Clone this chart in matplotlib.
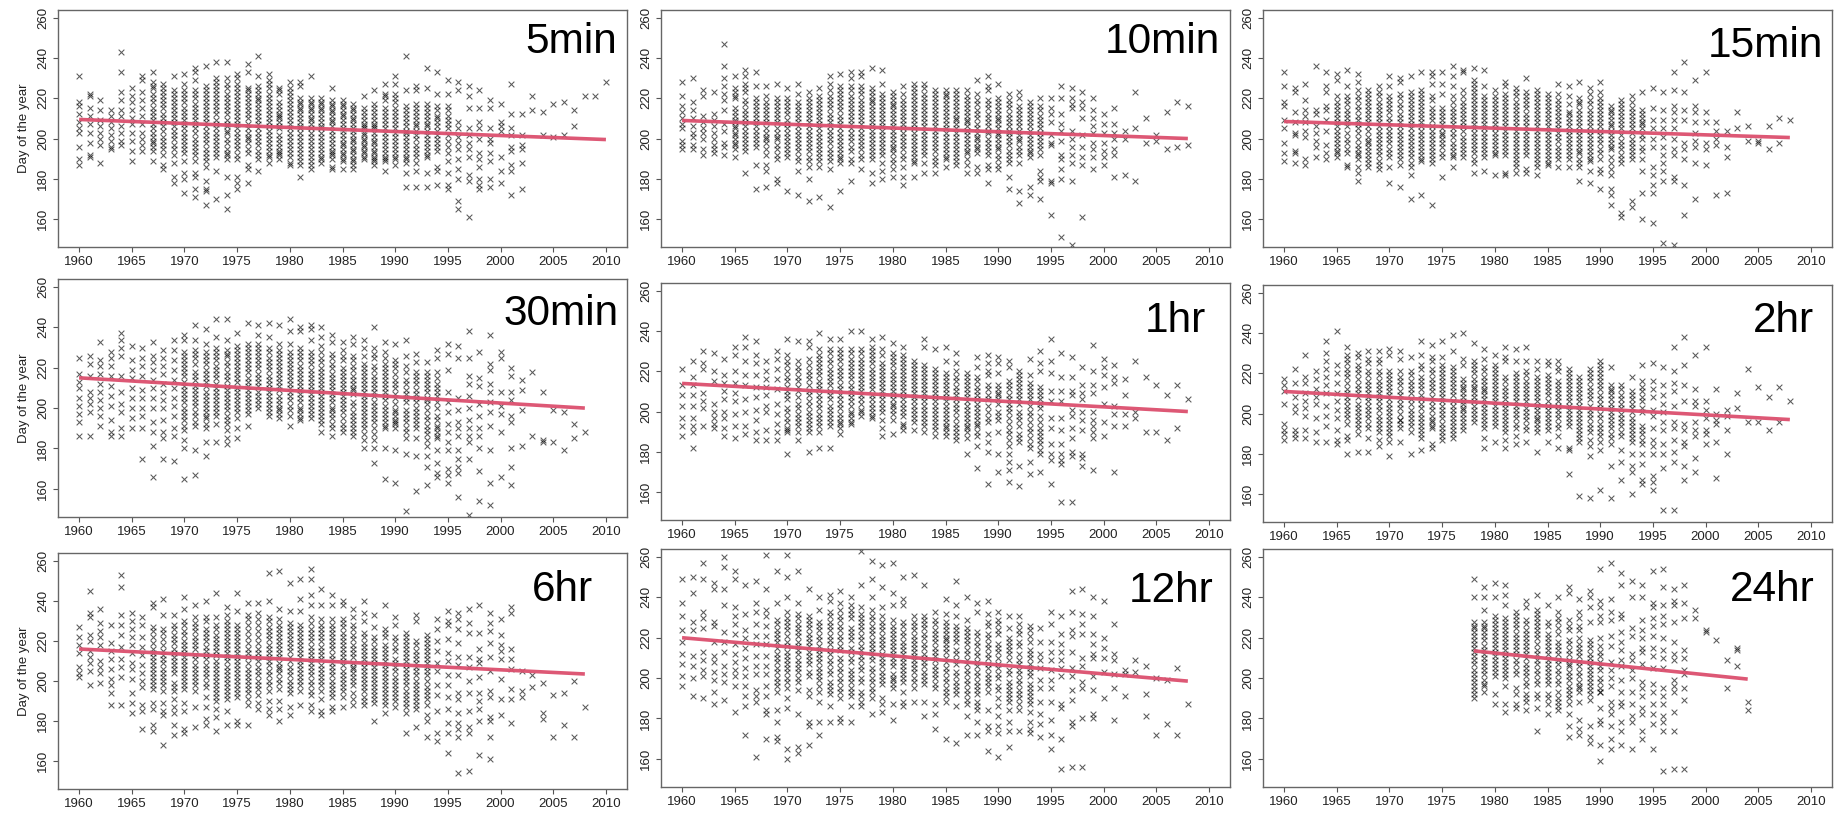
import matplotlib
matplotlib.use("Agg")
import matplotlib.pyplot as plt

plt.rcParams['font.family'] = ['Liberation Sans', 'DejaVu Sans']

# day of the year, year by year, one table per duration
y_5min = {
    1960: [231,218,216,212,208,205,203,196,190,187],
    1961: [222,221,215,211,207,203,198,192,191],
    1962: [219,214,209,206,203,200,197,188],
    1963: [214,211,208,205,202,199,196,195],
    1964: [243,233,223,219,214,211,206,203,199,197],
    1965: [225,221,218,214,210,207,203,199,194,189],
    1966: [231,229,223,219,215,211,207,203,200,197,194],
    1967: [233,228,225,222,218,213,209,205,201,198,194,189],
    1968: [227,223,219,215,212,208,204,201,197,192,187,185],
    1969: [231,224,220,216,212,208,204,200,195,192,188,181,178],
    1970: [232,227,222,218,213,209,205,201,197,193,189,183,180,173],
    1971: [235,233,229,224,220,215,211,207,203,198,194,189,183,181,175,171],
    1972: [236,226,222,218,214,210,206,202,198,193,189,186,179,175,174,167],
    1973: [238,230,226,222,218,214,209,205,201,197,193,191,184,170],
    1974: [238,230,227,222,218,214,209,206,203,198,193,190,181,172,165],
    1975: [232,230,225,221,217,213,209,205,201,197,192,190,181,178,175],
    1976: [237,233,225,222,218,214,210,205,201,198,193,187,185,178],
    1977: [241,231,226,222,219,215,211,207,203,199,194,190,184],
    1978: [232,229,225,222,218,214,210,206,202,198,194,191,188],
    1979: [225,224,218,214,211,208,205,200,196,193,190],
    1980: [228,225,221,217,213,209,205,201,197,193,188,187],
    1981: [228,226,220,217,214,210,206,203,199,195,191,187,181],
    1982: [231,220,217,214,210,207,203,199,195,191,187,185],
    1983: [220,217,214,210,206,203,199,195,191,188],
    1984: [225,219,216,213,209,206,202,198,194,192,186,185],
    1985: [219,216,212,209,205,202,198,195,192,189,185],
    1986: [217,214,210,207,204,200,197,194,190,187,185],
    1987: [221,215,211,207,205,202,199,196,193,190],
    1988: [224,217,213,209,206,203,199,196,193,190,187],
    1989: [227,222,221,215,211,207,203,199,195,191,189,184],
    1990: [231,227,222,218,213,209,205,201,197,193,190,187],
    1991: [241,224,216,212,208,204,201,197,193,188,183,176],
    1992: [226,224,217,213,209,206,202,197,193,188,184,176],
    1993: [235,225,217,213,209,206,202,198,194,191,183,176],
    1994: [233,222,216,211,208,204,200,196,186,184,177],
    1995: [229,222,216,211,207,202,196,189,183,177,175],
    1996: [228,224,208,205,201,198,195,190,185,180,169,165],
    1997: [226,221,215,205,202,198,195,191,182,179,161],
    1998: [224,215,208,205,200,193,190,186,180,177,175],
    1999: [219,215,205,200,198,193,189,180,176],
    2000: [217,208,206,204,191,184,178],
    2001: [227,212,205,202,196,194,187,184,172],
    2002: [212,202,197,195,188,175],
    2003: [221,214],
    2004: [213,202],
    2005: [217,201],
    2006: [218,202],
    2007: [214,206],
    2008: [221],
    2009: [221],
    2010: [228],
}

y_10min = {
    1960: [228,221,216,213,210,207,205,199,197,195],
    1961: [230,218,214,210,206,203,201,197,195],
    1962: [224,221,211,208,205,203,200,195,192],
    1963: [223,212,209,206,203,200,197,195,193],
    1964: [247,236,230,226,222,219,214,207,204,198,196,192],
    1965: [231,225,223,220,215,211,208,205,202,198,195,191],
    1966: [234,231,227,223,217,212,208,204,200,196,194,183],
    1967: [233,226,220,216,212,208,204,200,196,187,175],
    1968: [226,221,216,212,208,203,200,195,187,184,176],
    1969: [227,220,216,212,208,203,200,195,190,180,178],
    1970: [225,220,216,212,207,203,199,195,191,174],
    1971: [227,222,216,212,208,204,200,196,191,184,172],
    1972: [223,218,214,210,206,202,198,194,189,186,180,169],
    1973: [225,221,217,213,209,205,201,197,193,189,186,171],
    1974: [231,227,224,219,215,210,206,202,198,193,189,185,166],
    1975: [232,226,222,218,214,209,205,201,197,193,190,188,174],
    1976: [233,230,224,219,215,211,207,203,199,194,188,179],
    1977: [233,231,226,222,217,213,209,205,201,197,192,185],
    1978: [235,225,221,218,214,210,206,202,198,194,190,183,178],
    1979: [234,227,222,218,214,210,206,202,198,194,188,184,180],
    1980: [223,219,216,212,208,204,200,196,193,188,185,181],
    1981: [226,222,217,213,209,205,201,197,192,186,181,177],
    1982: [227,223,219,215,211,207,203,199,195,191,188,181],
    1983: [227,222,218,214,210,206,202,198,194,188,183],
    1984: [224,220,216,212,208,204,200,196,191,187,183],
    1985: [224,221,217,213,209,205,201,197,193,190,186],
    1986: [224,220,216,212,209,205,201,197,193,189,187],
    1987: [224,219,215,211,208,204,200,196,193,187,183],
    1988: [229,222,217,212,207,203,200,196,193,186,183],
    1989: [231,226,224,219,215,210,206,203,198,194,187,185,178],
    1990: [227,220,216,212,209,205,202,198,195,190,187,185],
    1991: [222,219,215,210,206,203,199,192,188,181,175],
    1992: [223,220,214,210,206,202,199,196,192,188,174,168],
    1993: [218,214,210,206,202,198,194,191,176,172],
    1994: [220,214,211,207,203,199,195,192,184,181,179,170],
    1995: [220,215,212,208,202,198,197,179,178,162],
    1996: [226,220,212,207,204,199,192,190,185,180,151],
    1997: [225,220,217,215,204,200,196,192,188,179,147],
    1998: [223,218,215,210,202,196,191,187,161],
    1999: [220,214,210,206,203,198,195,191,185],
    2000: [212,207,203,198,194,191,187],
    2001: [215,207,203,200,195,192,181],
    2002: [204,200,182],
    2003: [223,205,179],
    2004: [210,198],
    2005: [202,199],
    2006: [213,195],
    2007: [218,196],
    2008: [216,197],
}

y_15min = {
    1960: [233,226,218,216,209,205,198,193,189],
    1961: [225,223,213,208,203,202,194,193,188],
    1962: [227,219,214,211,208,204,201,190,187],
    1963: [236,214,212,206,203,199,196,191],
    1964: [233,226,223,216,214,209,204,197,193,190],
    1965: [232,229,221,218,214,210,206,202,198,194,191],
    1966: [234,226,221,217,212,208,203,198,193,187,186],
    1967: [232,228,224,219,214,211,207,203,197,193,190,186,183,179],
    1968: [224,220,216,212,208,204,199,196,192,188,186],
    1969: [226,221,216,212,208,204,200,196,192,189,185],
    1970: [231,226,221,217,213,208,204,200,195,191,186,178],
    1971: [230,228,222,217,212,208,204,200,196,192,187,176],
    1972: [231,223,219,215,211,207,203,199,195,191,186,182,170],
    1973: [233,224,220,216,212,208,204,200,196,192,189,172],
    1974: [233,231,227,221,215,211,206,202,198,194,190,188,167],
    1975: [233,227,222,215,211,207,203,200,196,191,181],
    1976: [236,231,226,221,215,211,207,203,198,194,191,186],
    1977: [234,233,224,218,214,210,206,201,197,193,191],
    1978: [235,229,225,221,217,213,209,205,201,197,193,188,183],
    1979: [234,226,221,217,213,209,205,201,197,193,184],
    1980: [224,219,215,211,207,203,199,195,192,182],
    1981: [228,226,220,216,212,208,204,200,196,192,183,182],
    1982: [225,221,218,214,210,206,202,198,194,190,186,183],
    1983: [230,223,219,215,210,206,202,198,194,185,183],
    1984: [224,222,218,214,210,206,202,198,194,190,186,182],
    1985: [222,218,214,210,206,202,198,194,190,187],
    1986: [227,222,217,213,209,205,201,196,192,186],
    1987: [226,221,213,210,206,202,196,192,186],
    1988: [228,220,217,212,208,204,200,196,193,190,186,179],
    1989: [225,222,217,212,208,204,200,196,192,189,184,178],
    1990: [228,223,220,216,212,208,204,200,195,190,185,183,175],
    1991: [216,213,209,206,202,198,195,188,185,182,175,172,167],
    1992: [219,215,211,207,202,197,192,188,163,161],
    1993: [221,218,213,209,205,200,196,192,190,169,166],
    1994: [223,214,210,207,202,196,190,184,173,160],
    1995: [225,215,209,205,200,196,186,182,177,173,158],
    1996: [223,214,209,205,201,196,192,188,184,179,148],
    1997: [233,224,216,213,209,205,200,195,192,181,179,147],
    1998: [238,223,214,209,198,195,190,177,162],
    1999: [229,216,213,208,203,199,196,188,170],
    2000: [233,213,208,198,195,187],
    2001: [208,204,200,197,172],
    2002: [204,196,191,173],
    2003: [213,205],
    2004: [206,199],
    2005: [199,198],
    2006: [206,195],
    2007: [210,198],
    2008: [209],
}

y_30min = {
    1960: [225,217,213,210,205,201,197,193,186],
    1961: [226,222,216,208,205,202,198,186],
    1962: [233,224,221,217,212,208,204,200,196,191],
    1963: [228,225,221,216,211,206,201,194,188,186],
    1964: [237,234,230,226,216,208,202,198,190,186],
    1965: [231,224,219,215,210,205,200,195,190],
    1966: [230,225,221,216,209,205,200,196,190,175],
    1967: [233,226,223,219,214,210,205,200,193,188,181,166],
    1968: [229,225,221,217,212,208,204,200,194,188,185,175],
    1969: [234,229,224,219,214,210,205,201,196,190,186,174],
    1970: [236,234,228,224,220,216,211,207,203,198,194,189,184,180,165],
    1971: [241,234,229,225,218,214,209,205,201,196,191,179,167],
    1972: [239,232,228,224,219,215,211,206,202,198,195,190,183,176],
    1973: [244,235,230,226,221,217,212,208,204,200,196,192,183],
    1974: [244,234,229,226,221,216,211,207,203,199,194,189,185,182],
    1975: [237,231,227,223,219,215,210,206,202,198,190,185],
    1976: [242,232,228,224,220,215,211,207,203,199,191],
    1977: [241,236,232,226,222,217,213,208,204,200],
    1978: [242,235,230,225,221,216,212,208,204,200,196],
    1979: [241,232,227,223,219,215,211,206,202,199,195],
    1980: [244,238,232,226,222,218,214,210,206,201,196,191],
    1981: [240,238,230,226,221,217,213,209,205,200,197,194],
    1982: [241,239,234,228,224,219,215,211,207,203,199,195],
    1983: [240,235,231,225,220,216,212,208,204,200,196,192,188],
    1984: [236,233,227,222,217,213,209,205,200,197,192,186],
    1985: [233,229,226,220,216,212,208,204,200,195,192,188],
    1986: [235,232,226,221,216,212,209,203,198,194,190,186],
    1987: [234,230,226,220,216,212,208,204,200,196,192,187,184,180],
    1988: [240,230,227,221,216,212,208,203,199,195,187,184,180,173],
    1989: [233,228,222,218,214,210,206,201,197,193,190,180,165],
    1990: [232,224,220,214,210,205,199,196,193,190,179,163],
    1991: [234,226,221,214,209,205,199,195,190,185,177,149],
    1992: [227,223,218,214,209,205,200,196,192,185,176,159],
    1993: [223,218,214,210,205,202,196,191,187,181,176,171,162],
    1994: [229,225,218,212,208,203,196,191,188,185,179,173,168,166],
    1995: [232,227,219,208,203,198,192,188,183,179,170,167,163],
    1996: [231,225,205,199,193,190,186,179,175,171,168,156],
    1997: [238,225,216,212,206,200,194,190,186,183,175,147],
    1998: [228,215,211,202,196,190,186,180,169,154],
    1999: [236,222,219,212,208,203,198,191,179,163,152],
    2000: [228,225,208,201,197,188,166],
    2001: [220,216,208,204,196,193,180,171,162],
    2002: [214,209,199,181],
    2003: [218,186],
    2004: [208,184,183],
    2005: [199,183],
    2006: [198,179],
    2007: [192,185],
    2008: [188],
}

y_1hr = {
    1960: [221,213,208,203,197,193,188],
    1961: [225,217,213,208,203,197,193,190,182],
    1962: [230,224,221,209,205,202,193],
    1963: [229,220,215,204,200,197,194,192],
    1964: [226,218,214,210,206,200,197,192,188],
    1965: [232,228,220,214,209,205,199,193,187],
    1966: [237,232,225,218,213,206,200,193,189],
    1967: [235,228,224,218,212,207,201,196,190,186],
    1968: [225,220,216,212,208,203,200,191,186],
    1969: [230,226,221,216,211,204,199,194,190,186],
    1970: [236,228,223,217,212,208,202,197,192,190,179],
    1971: [235,225,220,215,210,204,199,195,190,186],
    1972: [235,232,226,220,216,210,205,200,196,190,180],
    1973: [239,231,226,222,218,213,208,204,199,195,190,182],
    1974: [236,231,226,221,217,213,208,203,199,195,182],
    1975: [236,231,227,222,218,213,208,204,199,195,192,189],
    1976: [240,231,226,222,218,213,209,205,200,197,194],
    1977: [240,231,226,222,218,214,210,206,201,198],
    1978: [236,232,226,221,217,213,208,204,200,197],
    1979: [237,231,224,220,216,212,208,204,196,192,188],
    1980: [234,229,225,220,216,212,208,204,201,196,189],
    1981: [232,228,224,220,216,212,208,204,200,194,191],
    1982: [225,221,217,213,209,205,201,197,191],
    1983: [236,232,223,219,215,211,207,203,199,195,190],
    1984: [231,221,217,213,209,205,199,195,191,188],
    1985: [232,225,219,215,211,207,203,199,195,192,188],
    1986: [229,224,217,212,208,204,200,194,190,186],
    1987: [219,215,211,207,203,199,195,192,187,179],
    1988: [227,222,217,212,208,204,200,196,193,188,183,172],
    1989: [228,224,218,213,208,203,197,189,185,180,164],
    1990: [227,224,219,211,208,204,198,190,179,170],
    1991: [225,222,215,211,206,202,194,189,183,179,175,171,165],
    1992: [220,216,212,208,204,200,196,189,185,173,163],
    1993: [226,218,212,208,203,198,192,187,182,175,169],
    1994: [230,224,220,212,208,204,198,192,188,184,179,170],
    1995: [236,225,219,210,205,197,192,184,179,176,164],
    1996: [229,217,210,205,197,191,184,179,176,174,155],
    1997: [227,217,210,208,201,198,192,187,180,178,155],
    1998: [222,213,209,206,200,196,191,179,177,173],
    1999: [233,220,213,209,200,196,193,190,187,171],
    2000: [226,222,218,212,204,195,188],
    2001: [223,217,214,203,199,193,170],
    2002: [216,208,199,193],
    2003: [225,200,197],
    2004: [217,190],
    2005: [213,190],
    2006: [208,186],
    2007: [213,192],
    2008: [206],
}

y_2hr = {
    1960: [217,214,211,205,195,192,190,187],
    1961: [222,215,208,204,201,192,190,188],
    1962: [229,218,215,210,206,203,199,192,188],
    1963: [221,217,212,208,205,198,191,186],
    1964: [236,230,226,222,218,214,210,204,199,194,186],
    1965: [241,224,220,215,210,206,202,198,192,187,185],
    1966: [233,229,225,222,218,212,208,204,198,189,187,180],
    1967: [230,224,220,214,210,205,201,195,190,181],
    1968: [231,227,221,216,212,208,204,200,195,188,181],
    1969: [231,227,221,216,212,208,204,199,195,191,187,184],
    1970: [232,229,221,217,213,209,205,201,197,193,189,186,179],
    1971: [231,227,221,216,211,207,203,197,195,186],
    1972: [228,221,216,212,207,202,196,191,180],
    1973: [236,229,224,218,214,209,205,200,196,192,188,182],
    1974: [234,228,222,217,213,208,204,199,196,193,185,183],
    1975: [236,228,224,220,216,212,208,204,200,195,191,187],
    1976: [239,231,223,219,215,211,206,202,198,194,190,188],
    1977: [240,227,224,217,213,210,206,203,200,196,192],
    1978: [235,226,222,217,213,210,206,202,198],
    1979: [232,227,223,218,214,211,207,203,199,195,188,183],
    1980: [229,224,220,216,212,208,204,200,196,186],
    1981: [233,228,226,218,213,209,205,201,197,191,187,183],
    1982: [232,226,220,216,212,208,204,200,195,189,185],
    1983: [233,226,221,216,212,208,203,199,194,186],
    1984: [226,222,218,214,210,206,202,198,195,191,181],
    1985: [226,224,219,215,211,206,202,198,192,186],
    1986: [226,223,216,212,208,204,200,195,189,183],
    1987: [222,218,214,210,206,202,198,194,183,182,170],
    1988: [218,214,210,206,202,198,194,190,186,159],
    1989: [222,218,213,209,204,200,195,191,187,184,179,158],
    1990: [226,222,218,214,209,205,200,195,191,186,182,162],
    1991: [223,214,211,207,203,199,195,190,185,174,158],
    1992: [214,209,205,200,196,191,182,176,167],
    1993: [218,211,207,203,198,194,190,186,180,174,171,160],
    1994: [224,216,213,208,203,194,190,185,180,175,167,165],
    1995: [225,216,212,208,202,199,193,187,184,180,169,166,162],
    1996: [223,214,209,205,201,196,192,185,180,173,152],
    1997: [233,221,215,211,204,196,193,187,181,176,152],
    1998: [238,224,214,206,195,192,186,184,174,167],
    1999: [229,212,206,204,196,192,189,178,171],
    2000: [233,206,202,198,192,190,185],
    2001: [212,200,197,195,186,168],
    2002: [202,199,192,180],
    2003: [210,203],
    2004: [222,196],
    2005: [213,196],
    2006: [208,192],
    2007: [213,196],
    2008: [206],
}

y_6hr = {
    1960: [227,222,218,214,207,204,202],
    1961: [245,234,232,223,220,215,212,209,205,198],
    1962: [236,229,225,222,218,210,207,204,199],
    1963: [228,219,215,211,206,201,198,194,188],
    1964: [253,247,233,228,223,217,211,207,202,188],
    1965: [234,230,226,222,218,214,209,206,201,194,189,184],
    1966: [232,228,222,217,213,208,204,200,197,188,185,176],
    1967: [239,237,227,222,216,212,208,204,200,196,189,186,178,175],
    1968: [241,233,226,221,215,211,206,202,198,189,185,183,168],
    1969: [233,228,223,219,214,210,206,199,195,191,187,184,178,173],
    1970: [242,236,230,225,220,216,212,208,204,200,196,189,185,176,174],
    1971: [238,232,227,222,218,213,208,204,200,195,187,177],
    1972: [240,232,226,222,217,213,208,204,199,192,187,181,178],
    1973: [244,232,228,223,219,215,210,206,202,198,194,190,186,182,175],
    1974: [237,233,228,224,220,216,212,207,203,199,195,191,185,178],
    1975: [244,235,228,224,220,216,212,208,204,200,196,192,180,178],
    1976: [239,233,228,222,216,212,206,202,198,194,188,178],
    1977: [239,234,228,222,216,212,207,203,198,193,189,186],
    1978: [254,240,232,227,223,218,214,210,205,200,195,190,186,183],
    1979: [255,236,231,226,222,218,214,209,206,201,196,190,186,180],
    1980: [249,235,229,225,221,217,212,207,203,198,194,187,183],
    1981: [251,241,235,228,224,220,216,212,208,204,200,195,188],
    1982: [256,251,243,238,232,226,222,217,213,209,205,200,193,188,185],
    1983: [246,238,231,226,222,217,213,208,204,200,195,191,185,183],
    1984: [243,238,231,226,222,218,213,209,205,200,196,192,187,185],
    1985: [240,238,231,227,222,218,214,210,205,201,197,192,187],
    1986: [236,232,228,223,218,214,209,206,202,198,191,188],
    1987: [240,234,230,224,217,213,209,205,201,197,192,188],
    1988: [233,227,222,217,213,209,205,201,197,193,189,180],
    1989: [238,226,222,216,212,208,204,200,196,192,188,184],
    1990: [232,228,222,217,211,207,202,198,194,190,187],
    1991: [224,220,216,212,208,204,200,195,191,187,184,174],
    1992: [233,230,220,215,211,207,203,198,194,190,186,177],
    1993: [223,219,215,211,207,203,197,193,188,183,180,172],
    1994: [231,226,220,215,209,205,198,193,185,174,170],
    1995: [235,230,228,221,214,210,203,198,192,186,179,174,164],
    1996: [234,231,226,219,212,208,203,194,191,184,179,176,172,154],
    1997: [236,229,224,212,207,200,194,185,177,174,155],
    1998: [238,224,216,211,209,202,194,190,186,180,163],
    1999: [234,229,225,219,212,205,195,192,182,180,172,161],
    2000: [231,223,218,215,211,201,191,183],
    2001: [237,234,216,211,206,196,191,179],
    2002: [205,195,192],
    2003: [203,197],
    2004: [199,184,181],
    2005: [193,172],
    2006: [194,178],
    2007: [200,172],
    2008: [187],
}

y_12hr = {
    1960: [249,237,231,224,218,212,207,201,196],
    1961: [250,242,228,224,211,206,200,191],
    1962: [257,249,233,230,225,213,209,204,201,190],
    1963: [247,244,228,226,218,211,208,203,199,193,187],
    1964: [260,255,244,236,223,218,213,206,202,198,189],
    1965: [253,249,235,231,227,222,217,212,208,204,201,196,183],
    1966: [246,232,224,220,215,210,205,201,196,191,186,172],
    1967: [248,237,233,227,221,217,211,206,202,194,191,188,161],
    1968: [261,244,234,231,226,221,217,211,206,202,196,191,184,182,170],
    1969: [253,237,229,224,220,215,210,205,200,196,193,184,178,171,169],
    1970: [261,250,240,233,228,224,218,213,209,205,200,195,190,185,165,160],
    1971: [253,237,232,227,223,218,214,209,205,200,194,182,166,163],
    1972: [244,231,227,222,218,213,209,203,194,191,178,176,167],
    1973: [240,234,228,224,219,214,210,205,201,193,188,178,172],
    1974: [241,238,233,228,224,219,214,209,204,198,192,186,178],
    1975: [243,237,231,226,221,216,210,205,200,195,190,180,178],
    1976: [240,236,232,225,221,215,210,204,200,195,191,186,178],
    1977: [263,246,235,230,226,221,216,211,206,200,193,188,186],
    1978: [258,249,240,234,229,224,219,215,211,205,200,195,190,182],
    1979: [256,245,235,231,226,221,217,212,208,203,199,190,187,183],
    1980: [257,242,236,229,224,220,216,212,208,202,197,187,179],
    1981: [250,239,236,228,223,218,214,210,206,200,193,188,186],
    1982: [251,231,226,221,217,213,209,205,200,195,188],
    1983: [246,231,227,222,217,212,208,203,199,188,181],
    1984: [233,229,224,220,215,211,206,202,197,187,182,175],
    1985: [239,232,226,222,219,215,210,205,200,195,191,188,170],
    1986: [248,236,231,224,220,214,209,203,198,192,186,168],
    1987: [240,229,223,219,214,209,204,199,194,187,181,172],
    1988: [237,233,223,218,213,208,203,198,194,188,184,178,172],
    1989: [238,232,228,222,217,212,207,202,198,184,176,174,164],
    1990: [233,229,224,217,213,207,202,194,186,181,176,173,161],
    1991: [231,225,220,216,212,204,198,194,190,184,178,174,166],
    1992: [231,227,222,216,209,204,199,194,190,184,174],
    1993: [226,221,214,210,205,201,195,191,187,183,178,175,173],
    1994: [225,218,212,209,205,199,195,188,182,177,171],
    1995: [233,227,218,213,209,204,199,195,188,179,172,165],
    1996: [231,222,217,213,209,205,201,187,185,170,155],
    1997: [243,233,224,221,213,205,201,194,189,178,176,156],
    1998: [244,232,227,222,210,206,198,195,180,156],
    1999: [240,231,222,217,212,210,201,194,182,180],
    2000: [238,220,215,210,203,190],
    2001: [227,212,209,202,195,179],
    2002: [204,202,191],
    2003: [209,203],
    2004: [206,192,181],
    2005: [200,172],
    2006: [199,177],
    2007: [205,172],
    2008: [187],
}

y_24hr = {
    1978: [249,240,228,225,221,217,213,209,204,200,196,192,190],
    1979: [245,240,234,228,225,221,216,212,208,204,199,196,193],
    1980: [247,240,231,227,223,219,215,211,207,203,192,187],
    1981: [246,241,236,230,226,222,218,214,210,206,202,196,187,183],
    1982: [233,231,227,222,218,214,209,204,195,192,187,185],
    1983: [238,235,229,224,220,216,212,207,203,198,192,188,184],
    1984: [241,234,232,228,224,220,214,209,204,199,192,190,185,174],
    1985: [236,228,222,218,214,209,205,201,197,192,187,182],
    1986: [240,233,230,225,218,214,209,204,199,193,188,184],
    1987: [245,242,229,226,219,214,209,206,201,196,190,187,182,176,171],
    1988: [239,233,230,226,217,213,208,203,198,195,188,179,175,172],
    1989: [243,240,235,228,219,215,210,206,202,198,194,189,176,171,168],
    1990: [254,238,235,231,228,220,216,211,206,200,195,193,185,179,177,167,159],
    1991: [257,239,233,229,221,216,208,204,200,196,188,185,182,176,170,165],
    1992: [252,246,232,230,223,218,214,209,206,199,193,188,186,178,174,167],
    1993: [248,240,225,221,212,209,204,200,193,187,181,178,165],
    1994: [246,240,229,224,220,215,213,207,198,195,191,185,182,174,170],
    1995: [253,237,235,230,226,221,215,211,205,197,193,187,182,177,165],
    1996: [254,245,236,231,227,220,214,210,205,195,191,187,181,178,174,154],
    1997: [244,238,236,228,218,212,209,199,196,193,183,174,155],
    1998: [246,237,230,214,210,204,202,195,189,155],
    1999: [234,230],
    2000: [224,223],
    2001: [219],
    2002: [209,195],
    2003: [215,214,206],
    2004: [188,184],
}

# further marks inside the tight stacks of each column, estimated by eye
core_5min = {
    1967: [226,220,215,211,207,203,199,196], 1968: [225,221,217,210,206,199,195],
    1969: [222,218,214,210,206,202,197], 1970: [224,220,215,211,207,203,199,195],
    1971: [222,217,213,209,205,200,196,192], 1972: [224,220,216,212,208,204,200,195,191],
    1973: [228,224,220,216,212,207,203,199,195], 1974: [225,220,216,212,207,204,200,195,192],
    1975: [227,223,219,215,211,207,203,199,195], 1976: [224,220,216,212,207,203,200,195],
    1977: [224,220,217,213,209,205,201,197,192], 1978: [227,220,216,212,208,204,200,196,192],
    1979: [222,216,212,210,206,202,198,194,192], 1980: [223,219,215,211,207,203,199,195,191],
    1981: [218,215,212,208,205,201,197,193,189], 1982: [218,215,212,209,205,201,197,193,189],
    1983: [218,215,212,208,205,201,197,193,190], 1984: [217,214,211,208,204,200,196,193,190],
    1985: [217,214,211,207,204,200,197,193,190], 1986: [215,212,209,205,202,199,195,192,189],
    1987: [213,209,206,203,200,197,194,191], 1988: [215,211,207,205,201,198,194,191,189],
    1989: [219,213,209,205,201,197,193,190], 1990: [220,215,211,207,203,199,195,191],
    1991: [214,210,206,203,199,195,191,190], 1992: [215,211,207,204,200,195,191],
    1993: [215,211,207,204,200,196,192], 1994: [214,210,206,202,198,194],
    1995: [214,209,205,199,193],
}

core_10min = {
    1965: [221,213,209,206,203,200,197], 1966: [225,219,214,210,206,202,198],
    1967: [218,214,210,206,202,198], 1968: [218,214,210,205,201,198,192],
    1969: [218,214,210,205,201,197,192], 1970: [218,214,209,205,201,197,193],
    1971: [218,214,210,206,202,198,194,189], 1972: [220,216,212,208,204,200,196,191],
    1973: [219,215,211,207,203,199,195,191], 1974: [221,217,212,208,204,200,195,191],
    1975: [224,220,216,211,207,203,199,195,191], 1976: [226,221,217,213,209,205,201,196,190],
    1977: [224,219,215,211,207,203,199,195,190], 1978: [223,219,216,212,208,204,200,196,192],
    1979: [220,216,212,208,204,200,196,192], 1980: [221,217,214,210,206,202,198,195,190],
    1981: [219,215,211,207,203,199,195,190], 1982: [225,221,217,213,209,205,201,197,193,189],
    1983: [225,220,216,212,208,204,200,196,192], 1984: [222,218,214,210,206,202,198,194,189],
    1985: [222,219,215,211,207,203,199,195,191], 1986: [222,218,214,210,207,203,199,195,191],
    1987: [221,217,213,209,206,202,198,194,190], 1988: [219,214,210,205,201,198,195],
    1989: [217,212,208,204,200,196,192], 1990: [218,214,210,207,203,200,196,192],
    1991: [217,212,208,204,201,197,194,190], 1992: [216,212,208,204,200,194],
    1993: [216,212,208,204,200,196,193], 1994: [216,209,205,201,197],
}

core_15min = {
    1965: [216,212,208,204,200,196,193], 1966: [219,214,210,206,200,195],
    1967: [221,216,209,205,200,195,192], 1968: [222,218,214,210,206,201,198,194,190],
    1969: [223,218,214,210,206,202,198,194,187], 1970: [219,215,210,206,202,198,193],
    1971: [220,215,210,206,202,198,194,190], 1972: [221,217,213,209,205,201,197,193,188],
    1973: [222,218,214,210,206,202,198,194,190], 1974: [219,213,209,204,200,196,192],
    1975: [213,209,205,202,198,193], 1976: [218,213,209,205,201,196,192],
    1977: [221,216,212,208,204,199,195], 1978: [227,223,219,215,211,207,203,199,195,190],
    1979: [219,215,211,207,203,199,195,191], 1980: [221,217,213,209,205,201,197,193],
    1981: [222,218,214,210,206,202,198,194], 1982: [223,216,212,208,204,200,196,192,188],
    1983: [221,217,212,208,204,200,196,192], 1984: [220,216,212,208,204,200,196,192,188],
    1985: [220,216,212,208,204,200,196,192,188], 1986: [219,215,211,207,203,199,194,190],
    1987: [217,212,208,204,200,198,194,190], 1988: [218,214,210,206,202,198,194,188],
    1989: [219,214,210,206,202,198,194,190], 1990: [218,214,210,206,202,198,193],
    1991: [214,211,207,204,200,196,191], 1992: [217,213,209,205,199,195,190],
    1993: [215,211,207,203,198,194], 1994: [212,208,205,200,194],
}

core_30min = {
    1970: [226,222,218,213,209,205,200,196,191], 1971: [227,222,216,211,207,203,198,193],
    1972: [226,222,217,213,208,204,200,196,192], 1973: [228,224,219,215,210,206,202,198],
    1974: [227,223,218,214,209,205,201,196,192], 1975: [229,225,221,217,213,208,204,200,195],
    1976: [230,226,222,218,213,209,205,201,197], 1977: [230,228,224,220,215,211,206,202],
    1978: [228,223,219,214,210,206,202,198], 1979: [229,225,221,217,213,209,204,200,197],
    1980: [228,224,220,216,212,208,204,199], 1981: [228,224,219,215,211,207,203,199,195],
    1982: [226,222,217,213,209,205,201,197], 1983: [228,223,218,214,210,206,202,198,194],
    1984: [225,220,215,211,207,203,199,195,190], 1985: [224,218,214,210,206,202,198,190],
    1986: [224,219,214,210,207,201,196,192,188], 1987: [222,218,214,210,206,202,198,194,190],
    1988: [225,219,214,210,206,201,197,193,190], 1989: [225,220,216,212,208,204,199,195,191],
    1990: [222,217,212,207,202,198,194,192], 1991: [218,212,207,203,197,193,188],
    1992: [216,212,207,203,198,194,190], 1993: [216,212,208,204,199,194,189,184],
    1994: [215,210,206,200,194,190,186],
}

core_1hr = {
    1970: [225,220,215,210,206,200,195,191], 1971: [222,217,212,207,202,197,193],
    1972: [223,218,213,208,203,198,194,192], 1973: [228,224,220,215,211,206,202,197,193],
    1974: [229,224,219,215,210,206,201,197,193], 1975: [229,225,220,216,211,206,202,197,194],
    1976: [229,224,220,216,211,207,203,199,195], 1977: [229,224,220,216,212,208,204,200],
    1978: [230,228,224,219,215,211,206,202,198], 1979: [228,222,218,214,210,206,202,200],
    1980: [227,223,218,214,210,206,203,199], 1981: [226,222,218,214,210,206,202,198,193],
    1982: [223,219,215,211,207,203,199,195], 1983: [221,217,213,209,205,201,197,193],
    1984: [219,215,211,207,203,201,197,193], 1985: [217,213,209,205,201,197,193,190],
    1986: [220,215,210,206,202,197,192,188], 1987: [217,213,209,205,201,197,193,190],
    1988: [215,210,206,202,198,194,190], 1989: [220,211,206,200,195], 1990: [213,209,206,200,196],
    1991: [213,208,204,200,197,191,186], 1992: [218,214,210,206,198,193,187],
    1993: [214,210,206,200,195,190,184], 1994: [210,206,202,195,190,186,181],
}

core_2hr = {
    1966: [227,220,215,210,206,202,200,195], 1967: [228,222,217,212,208,203,199,197,193],
    1968: [225,219,214,210,206,202,198,193], 1969: [225,219,214,210,206,202,197,193],
    1970: [219,215,211,207,203,199,195,191], 1971: [218,214,209,205,200,197,193],
    1972: [219,214,210,205,200,198,194], 1973: [222,216,212,207,203,198,194,190],
    1974: [226,220,215,211,206,202,197,194], 1975: [222,218,214,210,206,202,198,193,189],
    1976: [221,217,213,209,204,200,196,192], 1977: [215,212,208,205,202,198,194],
    1978: [224,220,215,212,208,204,200,196], 1979: [221,216,212,209,205,201,197,193],
    1980: [222,218,214,210,206,202,198,194], 1981: [216,211,207,203,199,195,193],
    1982: [218,214,210,206,202,198,193], 1983: [219,214,210,206,201,197,192],
    1984: [216,212,208,204,200,197,193], 1985: [217,213,209,204,200,196,194],
    1986: [221,214,210,206,202,198,193], 1987: [220,216,212,208,204,200,196],
    1988: [216,212,208,204,200,196,192,188], 1989: [220,216,211,207,202,198,193],
    1990: [224,220,216,212,207,203,198,193,189], 1991: [212,209,205,201,197,193,188],
    1992: [212,207,203,198,194,189], 1993: [209,205,201,196,192,188], 1994: [211,206,201,192,187],
}

core_6hr = {
    1967: [225,219,214,210,206,202,198], 1968: [224,218,213,209,204,200,195],
    1969: [226,221,216,212,208,204,197], 1970: [228,223,218,214,210,206,202,198],
    1971: [229,225,220,216,211,206,202,198], 1972: [230,224,220,215,211,206,202,197],
    1973: [226,221,217,213,208,204,200,196,192], 1974: [230,226,222,218,214,210,205,201,197,193],
    1975: [226,222,218,214,210,206,202,198,194], 1976: [231,225,219,214,209,204,200,196,191],
    1977: [231,225,219,214,210,205,200,196],
    1978: [230,225,221,216,212,208,203,198], 1979: [228,224,220,216,212,207,204,199],
    1980: [227,223,219,215,210,205,200,196], 1981: [226,222,218,214,210,206,202,198],
    1982: [229,224,220,215,211,207,203,198,195], 1983: [228,224,220,215,211,206,202,198],
    1984: [228,224,220,216,211,207,203,198,194], 1985: [229,224,220,216,212,208,203,199,195],
    1986: [226,221,216,212,207,204,200,194], 1987: [222,219,215,211,207,203,199,195,190],
    1988: [220,215,211,207,203,199,195,191], 1989: [224,218,214,210,206,202,198,194,190],
    1990: [220,215,209,205,200,196,192], 1991: [222,218,214,210,206,202,198,193,189],
    1992: [218,213,209,205,200,196,192,188], 1993: [221,217,213,209,205,200,195,191],
}

core_12hr = {
    1969: [227,222,218,212,208,203,198], 1970: [230,226,221,216,211,207,203,198],
    1971: [230,225,221,216,212,207,203,198], 1972: [229,225,220,216,211,207,201],
    1973: [226,221,216,212,208,203,199,196], 1974: [231,226,221,217,212,207,202,196,194],
    1975: [234,229,224,219,214,208,203,198,193], 1976: [234,230,223,219,213,208,202,198,193],
    1977: [232,228,224,219,214,209,204,198,191], 1978: [231,226,222,217,213,209,203,198,193],
    1979: [228,224,219,215,210,206,201,197], 1980: [226,222,218,214,210,206,200,199,195],
    1981: [226,221,216,212,208,204,202,198], 1982: [228,224,219,215,211,207,203,198],
    1983: [229,225,220,215,210,206,201,197], 1984: [227,222,218,213,209,204,200,195],
    1985: [228,224,220,217,213,208,203,198,193], 1986: [226,222,218,212,207,201,196,194],
    1987: [225,221,217,212,207,202,197,192,189], 1988: [221,216,211,206,201,196,192,186],
    1989: [226,220,215,210,205,200,196,193], 1990: [227,222,215,210,205,200,196,190],
    1991: [218,214,209,202,196,192,188], 1992: [224,218,212,207,202,197,192,187],
    1993: [224,218,212,207,203,197,193,189],
}

core_24hr = {
    1978: [226,223,219,215,211,207,202,198,194], 1979: [226,223,219,214,210,206,202,197],
    1980: [229,225,221,217,213,209,205,201], 1981: [228,224,220,216,212,208,204,200],
    1982: [229,225,220,216,212,207,202], 1983: [227,222,218,214,210,205,201,196,190],
    1984: [230,226,222,217,212,207,202,197], 1985: [226,220,216,212,207,203,199,190],
    1986: [228,222,216,212,207,202,197,190,186], 1987: [224,217,212,207,203,199,194,192],
    1988: [224,220,215,211,206,201,196,193], 1989: [217,212,208,204,200,196,192],
    1990: [213,208,204,198,193],
}

titles = ['5min', '10min', '15min', '30min', '1hr', '2hr', '6hr', '12hr', '24hr']
tables = [y_5min, y_10min, y_15min, y_30min, y_1hr, y_2hr, y_6hr, y_12hr, y_24hr]
cores = [core_5min, core_10min, core_15min, core_30min, core_1hr, core_2hr, core_6hr,
         core_12hr, core_24hr]

# trend line end points (year, day) for each panel
trend_x = [(1960, 2010), (1960, 2008), (1960, 2008), (1960, 2008), (1960, 2008),
           (1960, 2008), (1960, 2008), (1960, 2008), (1978, 2004)]
trend_y = [(209.5, 199.5), (209, 200), (208.5, 200.5), (215, 200), (214, 200),
           (211, 197), (216, 203.5), (220, 198.5), (213.5, 199.5)]

year_ticks = list(range(1960, 2011, 5))
day_ticks = [160, 180, 200, 220, 240, 260]

W, H = 1834, 814
# axes box in pixels: left, right, top, bottom
boxes = [(58, 627, 10, 247), (661, 1230, 10, 247), (1263, 1832, 10, 247),
         (58, 627, 279, 517), (661, 1230, 283, 520), (1263, 1832, 285, 522),
         (58, 627, 553, 789), (661, 1230, 549, 787), (1263, 1832, 549, 787)]
# right edge and baseline of the big label, pixels
label_pos = [(617, 53), (1220, 53), (1823, 57), (619, 325), (1206, 332), (1814, 332),
             (593, 601), (1213, 602), (1815, 601)]

fig = plt.figure(figsize=(W / 100, H / 100), dpi=100)

for i in range(9):
    l, r, t, b = boxes[i]
    ax = fig.add_axes([l / W, 1 - b / H, (r - l) / W, (b - t) / H])

    xs, ys = [], []
    for table in (tables[i], cores[i]):
        for year, days in table.items():
            xs += [year] * len(days)
            ys += days
    ax.scatter(xs, ys, marker='x', s=17, c='black', alpha=0.65, linewidths=0.75, zorder=2)
    ax.plot(trend_x[i], trend_y[i], color='#dc4f6e', lw=2.6, alpha=0.95, zorder=3,
            solid_capstyle='butt')

    ax.set_xlim(1958, 2012)
    ax.set_ylim(146, 264)
    ax.set_xticks(year_ticks)
    ax.set_yticks(day_ticks)
    ax.tick_params(axis='both', length=3.5, width=0.8, color='#555555',
                   labelsize=9.5, labelcolor='#222222', pad=3)
    ax.tick_params(axis='y', labelrotation=90)
    for lab in ax.get_yticklabels():
        lab.set_va('center')
    for spine in ax.spines.values():
        spine.set_color('#666666')
        spine.set_linewidth(1.0)

    if i % 3 == 0:
        ax.set_ylabel('Day of the year', fontsize=9.5, color='#222222', labelpad=5)

    lx, ly = label_pos[i]
    fig.text(lx / W, 1 - ly / H, titles[i], ha='right', va='baseline', fontsize=30.5,
             color='black')

fig.savefig('out.png', dpi=100)
